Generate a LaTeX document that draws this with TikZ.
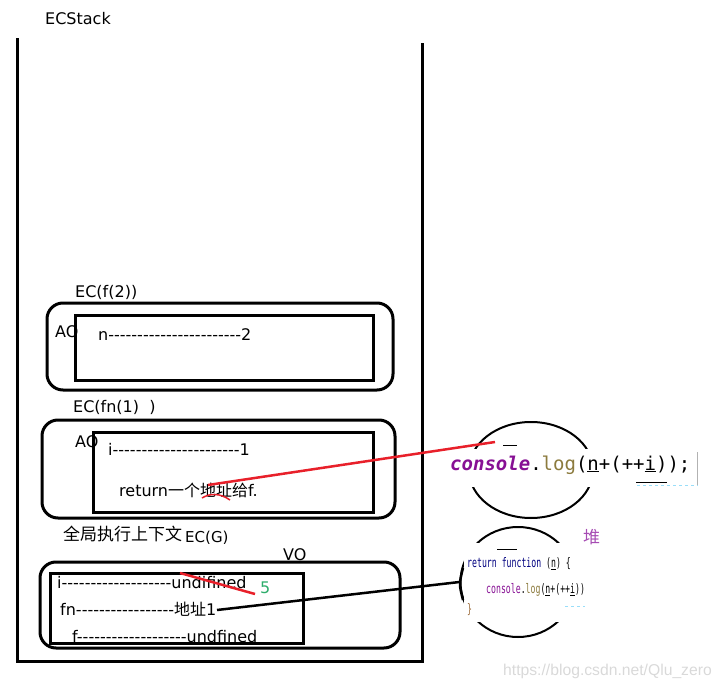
\documentclass[tikz,border=0pt]{standalone}
\usepackage{fontspec}
\setmainfont{DejaVu Sans}
\newfontfamily\cjk{Noto Sans CJK SC}
\newfontfamily\codefont{DejaVu Sans Mono}
\newfontfamily\webfont{Liberation Sans}
\usetikzlibrary{shapes.geometric}
\definecolor{penred}{HTML}{E8202A}
\definecolor{kwpurple}{HTML}{871094}
\definecolor{logolive}{HTML}{8C7B3E}
\definecolor{kwnavy}{HTML}{000080}
\definecolor{heapviolet}{HTML}{A64CB3}
\definecolor{fivegreen}{HTML}{2EAD6B}
\newcommand{\ecbox}[4]{\draw[line width=3pt, rounded corners=16pt] ( #1 , #2 ) rectangle ( #3 , #4 );}
\newcommand{\aobox}[4]{\draw[line width=3pt] ( #1 , #2 ) rectangle ( #3 , #4 );}
\newcommand{\dashes}[1]{\foreach \k in {1,...,#1}{-}}

\begin{document}
\begin{tikzpicture}[x=1pt, y=-1pt,
    txt/.style={anchor=base west, inner sep=0pt, font=\fontsize{16}{19}\selectfont},
    heap/.style={ellipse, draw, line width=2pt, inner sep=0pt},
    cover/.style={fill=white, inner sep=0pt, anchor=north west}]
    \useasboundingbox (0,0) rectangle (721,688);
    % stack
    \draw[line width=3pt] (17,38) -- (17,661) -- (422,661) -- (422,43);
    \node[txt] (stack) at (45,24) {ECStack};
    % EC(f(2))
    \node[txt] (ecf) at (75,297) {EC(f(2))};
    \ecbox{47}{303}{393}{390}
    \aobox{75}{315}{373}{380}
    \node[txt] (aof) at (55,337) {AO};
    \node[txt] (nval) at (98,340) {n\dashes{23}2};
    % EC(fn(1))
    \node[txt] (ecfn) at (73,412) {EC(fn(1)\ \ )};
    \ecbox{42}{420}{395}{518}
    \aobox{93}{432}{373}{512}
    \node[txt] (aofn) at (75,447) {AO};
    \node[txt] (ival) at (108,455) {i\dashes{22}1};
    \node[txt] (ret) at (119,496) {return{\cjk 一个地址给}f.};
    % EC(G)
    \node[txt, font=\cjk\fontsize{17}{20}\selectfont] (glbl) at (63,540) {全局执行上下文};
    \node[txt, font=\fontsize{15}{18}\selectfont] (ecg) at (185,542) {EC(G)};
    \node[txt] (vo) at (283,560) {VO};
    \ecbox{40}{562}{400}{648}
    \aobox{50}{573}{303}{643}
    \node[txt] (gi) at (57,588) {i\dashes{19}undifined};
    \node[txt, text=fivegreen] (five) at (260,593) {5};
    \node[txt] (gfn) at (60,615) {fn\dashes{17}{\cjk 地址}1};
    \node[txt] (gf) at (72,642) {f\dashes{19}undfined};
    % heap
    \node[heap, minimum width=124, minimum height=96] (heapA) at (531,470) {};
    \node[heap, minimum width=115, minimum height=110] (heapB) at (518,582) {};
    \node[cover, minimum width=253, minimum height=38] (coverA) at (447,449) {};
    \node[cover, minimum width=124, minimum height=79] (coverB) at (464,543) {};
    \node[anchor=base west, inner sep=0pt, font=\codefont\fontsize{19}{22}\selectfont] (logA) at (450,470)
        {{\bfseries\itshape\color{kwpurple}console}.{\color{logolive}log}(\underline{n}+(++\underline{i}));};
    \draw[gray!60, line width=1pt] (697,452) -- (697,485);
    \draw[line width=1pt] (503,445) -- (517,445);
    \draw[line width=1pt] (636,482) -- (667,482);
    \draw[cyan!40, dashed, line width=0.8pt] (637,485) -- (698,485);
    \node[anchor=base west, inner sep=0pt] (retB) at (467,567)
        {\scalebox{1}[1.6]{\codefont\fontsize{8.2}{10}\selectfont{\color{kwnavy}return function} (\underline{n}) \{}};
    \node[anchor=base west, inner sep=0pt] (logB) at (486,593)
        {\scalebox{1}[1.6]{\codefont\fontsize{8.2}{10}\selectfont{\color{kwpurple}console}.{\color{logolive}log}(\underline{n}+(++\underline{i}))}};
    \node[anchor=base west, inner sep=0pt] (endB) at (467,613)
        {\scalebox{1}[1.6]{\codefont\fontsize{8.2}{10}\selectfont\color{brown!80!black}\}}};
    \draw[line width=1pt] (497,549) -- (517,549);
    \draw[cyan!40, dashed, line width=0.8pt] (565,606) -- (585,606);
    \node[anchor=base west, inner sep=0pt, text=heapviolet, font=\cjk\fontsize{17}{20}\selectfont] (heaplbl) at (583,543) {堆};
    % pointers
    \coordinate (addr) at (208,485);
    \coordinate (heapAptr) at (495,442);
    \draw[penred, line width=2.5pt] (addr) -- (heapAptr);
    \draw[penred, line width=1.5pt] (202,498) .. controls (210,493) and (220,493) .. (230,500);
    \coordinate (strikeA) at (180,573);
    \coordinate (strikeB) at (255,594);
    \draw[penred, line width=2.5pt] (strikeA) -- (strikeB);
    \coordinate (addrOne) at (217,610);
    \draw[line width=2.5pt] (addrOne) -- (heapB.west);
    \draw[line width=2.5pt] (463,568) .. controls (459,584) .. (463,600);
    % watermark
    \node[anchor=base west, inner sep=0pt, text=gray!30, font=\webfont\fontsize{15.7}{18}\selectfont] (mark) at (503,675) {https://blog.csdn.net/Qlu\_zero};
\end{tikzpicture}
\end{document}
